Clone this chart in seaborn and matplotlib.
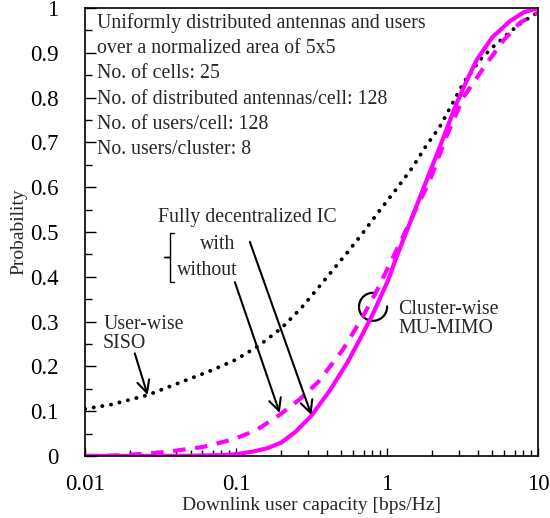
import numpy as np
import matplotlib
matplotlib.use("Agg")
import matplotlib.pyplot as plt
from matplotlib.patches import Arc
from matplotlib.ticker import LogLocator, MultipleLocator, FuncFormatter, NullFormatter
import seaborn as sns

# CDF curves
siso_x = [0.01, 0.015, 0.026, 0.05, 0.07, 0.1, 0.14, 0.2, 0.27, 0.34, 0.54, 0.7, 0.9, 1.15,
          1.49, 1.8, 2.24, 2.7, 3.2, 4.13, 5.0, 6.5, 8.0, 10]
siso_y = [0.105, 0.115, 0.136, 0.173, 0.192, 0.215, 0.245, 0.285, 0.33, 0.37, 0.452, 0.50,
          0.549, 0.595, 0.646, 0.69, 0.735, 0.785, 0.832, 0.884, 0.912, 0.946, 0.97, 0.99]

with_x = [0.01, 0.03, 0.05, 0.08, 0.1, 0.13, 0.16, 0.2, 0.25, 0.316, 0.42, 0.55, 0.68, 0.81,
          1.02, 1.16, 1.4, 1.66, 2.24, 2.89, 3.4, 3.93, 5.0, 6.5, 8.0, 10]
with_y = [0.0, 0.0002, 0.0005, 0.002, 0.004, 0.01, 0.017, 0.03, 0.055, 0.09, 0.147, 0.21,
          0.268, 0.318, 0.393, 0.445, 0.515, 0.579, 0.69, 0.787, 0.84, 0.884, 0.935, 0.97,
          0.99, 1.0]

without_x = [0.01, 0.015, 0.02, 0.03, 0.04, 0.06, 0.096, 0.137, 0.195, 0.265, 0.35, 0.51,
             0.69, 0.86, 1.05, 1.28, 1.6, 1.93, 2.48, 3.2, 4.57, 6.0, 7.6, 10]
without_y = [0.0, 0.001, 0.003, 0.007, 0.012, 0.02, 0.037, 0.058, 0.092, 0.127, 0.165, 0.237,
             0.31, 0.37, 0.43, 0.49, 0.56, 0.616, 0.713, 0.80, 0.876, 0.93, 0.967, 0.99]

info_lines = ["Uniformly distributed antennas and users",
              "over a normalized area of 5x5",
              "No. of cells: 25",
              "No. of distributed antennas/cell: 128",
              "No. of users/cell: 128",
              "No. users/cluster: 8"]

sns.set_style("white")
plt.rcParams['font.family'] = ['Liberation Serif', 'DejaVu Serif']

fig = plt.figure(figsize=(5.5, 5.18), dpi=100)
ax = fig.add_axes([0.1545, 0.1197, 0.8235, 0.8649])

magenta = "#ff00ff"
sns.lineplot(x=siso_x, y=siso_y, ax=ax, color="black", lw=2.8, estimator=None)
ax.lines[-1].set_dashes((0.05, 2.2))
ax.lines[-1].set_dash_capstyle("round")
sns.lineplot(x=without_x, y=without_y, ax=ax, color=magenta, lw=3.0, estimator=None)
ax.lines[-1].set_dashes((3, 2.3))
sns.lineplot(x=with_x, y=with_y, ax=ax, color=magenta, lw=3.0, estimator=None)

ax.set_xscale("log")
ax.set_xlim(0.01, 10)
ax.set_ylim(0, 1)
ax.xaxis.set_major_locator(LogLocator(base=10, numticks=10))
ax.xaxis.set_minor_locator(LogLocator(base=10, subs=np.arange(2, 10), numticks=20))
ax.xaxis.set_major_formatter(FuncFormatter(lambda v, p: f"{v:g}"))
ax.xaxis.set_minor_formatter(NullFormatter())
ax.yaxis.set_major_locator(MultipleLocator(0.1))
ax.yaxis.set_minor_locator(MultipleLocator(0.05))
ax.yaxis.set_major_formatter(FuncFormatter(lambda v, p: f"{round(v, 1):g}"))

ax.tick_params(axis="both", which="both", direction="in", colors="black", labelsize=16.5,
               top=False, right=False, bottom=True, left=True)
ax.tick_params(axis="y", which="major", length=8, width=1, pad=19)
ax.tick_params(axis="y", which="minor", length=5, width=1)
ax.tick_params(axis="x", which="major", length=6, width=1, pad=13)
ax.tick_params(axis="x", which="minor", length=4, width=1)
for s in ax.spines.values():
    s.set_color("black")
    s.set_linewidth(1.2)

ax.set_xlabel("Downlink user capacity [bps/Hz]", fontsize=14, labelpad=1.5)
ax.set_ylabel("Probability", fontsize=14, labelpad=2)

fs = 14.3
line_y = [0.967, 0.909, 0.853, 0.796, 0.739, 0.683]
for t, yy in zip(info_lines, line_y):
    ax.text(0.026, yy, t, transform=ax.transAxes, fontsize=fs, va="center", ha="left")

ax.text(0.161, 0.533, "Fully decentralized IC", transform=ax.transAxes, fontsize=fs, va="center")
ax.text(0.254, 0.471, "with", transform=ax.transAxes, fontsize=fs, va="center")
ax.text(0.203, 0.415, "without", transform=ax.transAxes, fontsize=fs, va="center")
# brace
bx = [0.197, 0.188, 0.188, 0.174, 0.188, 0.188, 0.197]
by = [0.498, 0.498, 0.444, 0.444, 0.444, 0.388, 0.388]
ax.plot(bx, by, transform=ax.transAxes, color="black", lw=1.0)

arrow = dict(arrowstyle="->", color="black", lw=1.5, mutation_scale=22,
             shrinkA=0, shrinkB=0)
ax.annotate("", xy=(0.316, 0.0915), xycoords="data", xytext=(0.364, 0.478),
            textcoords="axes fraction", arrowprops=arrow)
ax.annotate("", xy=(0.195, 0.096), xycoords="data", xytext=(0.331, 0.388),
            textcoords="axes fraction", arrowprops=arrow)
ax.annotate("", xy=(0.026, 0.136), xycoords="data", xytext=(0.110, 0.229),
            textcoords="axes fraction", arrowprops=arrow)

ax.text(0.040, 0.272, "User-wise\nSISO", transform=ax.transAxes, fontsize=fs,
        va="center", linespacing=1.0)
ax.text(0.692, 0.305, "Cluster-wise\nMU-MIMO", transform=ax.transAxes, fontsize=fs,
        va="center", linespacing=1.0)
ax.add_patch(Arc((0.636, 0.333), 0.062, 0.0625, theta1=75, theta2=365,
                 transform=ax.transAxes, color="black", lw=1.6))

fig.savefig("out.png", dpi=100)
